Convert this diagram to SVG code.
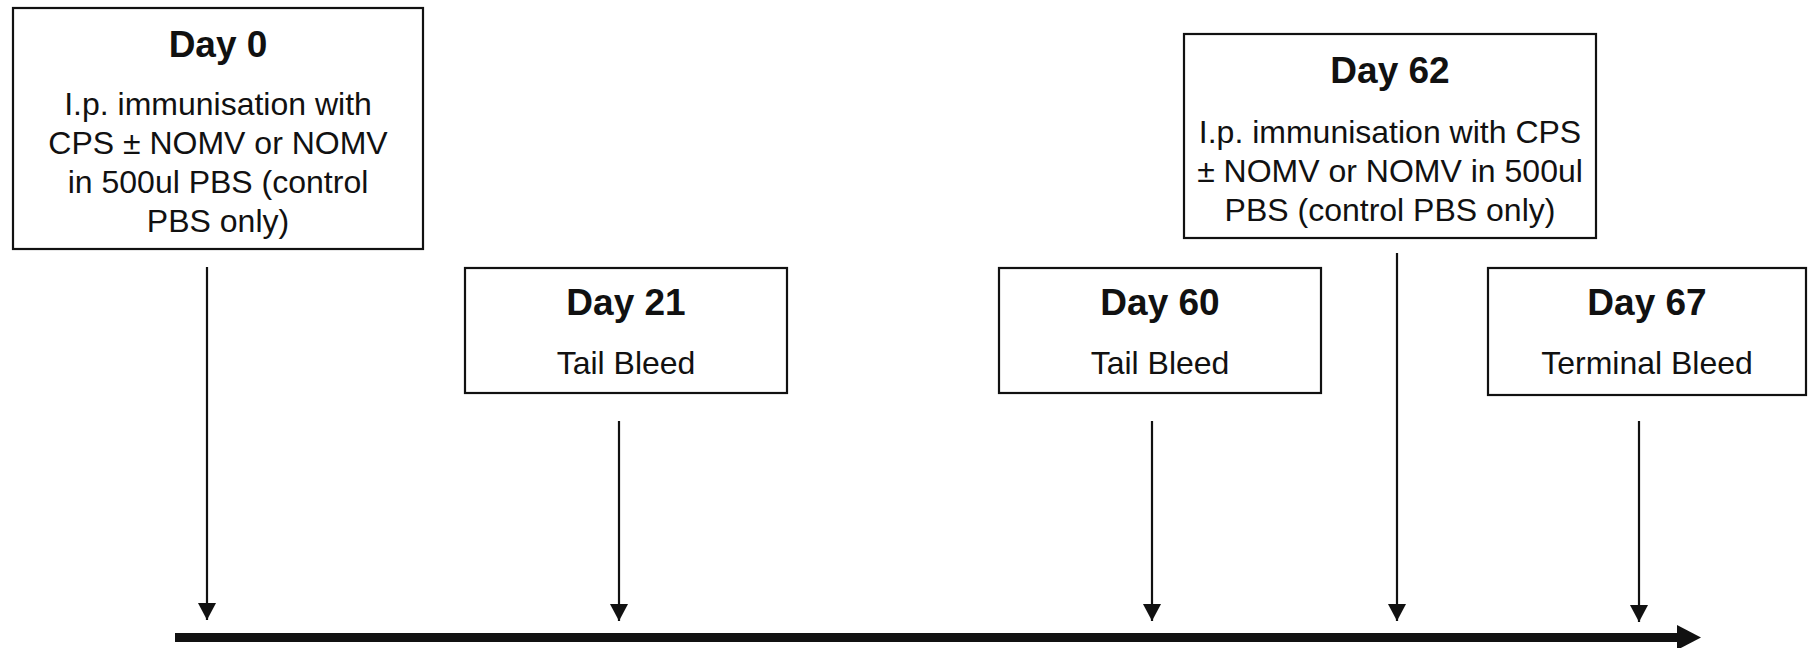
<svg xmlns="http://www.w3.org/2000/svg" width="1811" height="648" viewBox="0 0 1811 648">
<defs>
<style>
.box{fill:#fff;stroke:#111;stroke-width:2.2}
.t{font-family:"Liberation Sans",Arial,sans-serif;font-weight:bold;font-size:37px;fill:#111;text-anchor:middle}
.b{font-family:"Liberation Sans",Arial,sans-serif;font-size:32px;fill:#111;text-anchor:middle}
.arr{stroke:#111;stroke-width:2.2;fill:none;marker-end:url(#ah)}
</style>
<marker id="ah" markerUnits="userSpaceOnUse" markerWidth="18" markerHeight="18" viewBox="0 0 18 18" refX="17" refY="9" orient="auto">
<path d="M0,0 L17,9 L0,18 Z" fill="#111"/>
</marker>
</defs>
<rect width="1811" height="648" fill="#fff"/>
<g id="day0">
<rect class="box" x="13" y="8" width="410" height="241"/>
<text class="t" x="218" y="57">Day 0</text>
<text class="b" x="218" y="115">I.p. immunisation with</text>
<text class="b" x="218" y="154">CPS ± NOMV or NOMV</text>
<text class="b" x="218" y="193">in 500ul PBS (control</text>
<text class="b" x="218" y="232">PBS only)</text>
</g>
<g id="day21">
<rect class="box" x="465" y="268" width="322" height="125"/>
<text class="t" x="626" y="315">Day 21</text>
<text class="b" x="626" y="374">Tail Bleed</text>
</g>
<g id="day60">
<rect class="box" x="999" y="268" width="322" height="125"/>
<text class="t" x="1160" y="315">Day 60</text>
<text class="b" x="1160" y="374">Tail Bleed</text>
</g>
<g id="day62">
<rect class="box" x="1184" y="34" width="412" height="204"/>
<text class="t" x="1390" y="83">Day 62</text>
<text class="b" x="1390" y="143">I.p. immunisation with CPS</text>
<text class="b" x="1390" y="182">± NOMV or NOMV in 500ul</text>
<text class="b" x="1390" y="221">PBS (control PBS only)</text>
</g>
<g id="day67">
<rect class="box" x="1488" y="268" width="318" height="127"/>
<text class="t" x="1647" y="315">Day 67</text>
<text class="b" x="1647" y="374">Terminal Bleed</text>
</g>
<g id="connectors">
<line class="arr" x1="207" y1="267" x2="207" y2="620"/>
<line class="arr" x1="619" y1="421" x2="619" y2="621"/>
<line class="arr" x1="1152" y1="421" x2="1152" y2="621"/>
<line class="arr" x1="1397" y1="253" x2="1397" y2="621"/>
<line class="arr" x1="1639" y1="421" x2="1639" y2="622"/>
<line x1="175" y1="637.5" x2="1680" y2="637.5" stroke="#111" stroke-width="9"/>
<path d="M1677,625 L1701,637.5 L1677,650 Z" fill="#111"/>
</g>
</svg>
